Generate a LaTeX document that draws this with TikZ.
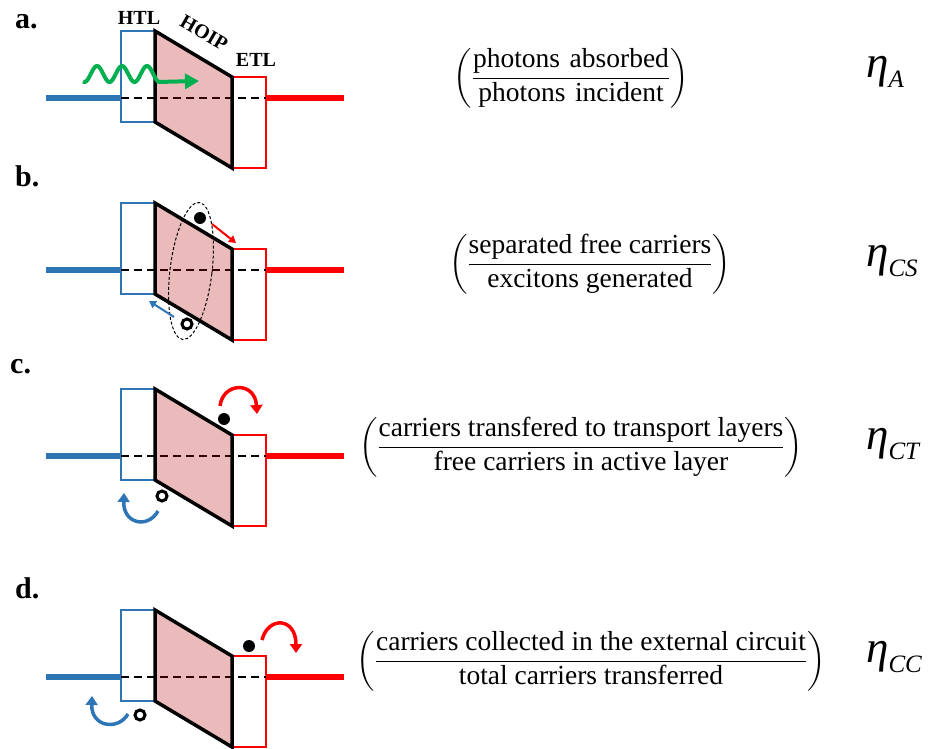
\documentclass[tikz,border=0pt]{standalone}
\usepackage{fontspec}
\setmainfont{Liberation Serif}
\usepackage{amsmath}
\usetikzlibrary{arrows.meta}
\definecolor{hblue}{RGB}{46,117,182}
\definecolor{hred}{RGB}{255,0,0}
\definecolor{hgreen}{RGB}{0,176,80}
\definecolor{hpink}{RGB}{180,0,0}
\newcommand\drawdevice[1]{%
  \begin{scope}[shift={(0,#1)}]
    \draw[hblue, line width=6pt] (46,98) -- (121,98);
    \draw[hred, line width=6pt] (266,98) -- (344,98);
    \draw[hblue, line width=2.5pt, fill=white] (121,31) rectangle (155,122);
    \draw[hred, line width=2.5pt, fill=white] (232,77) rectangle (266,168);
    \draw[black, line width=2pt, dash pattern=on 8pt off 5pt] (121,98) -- (266,98);
    \fill[hpink, fill opacity=0.27] (155,31) -- (232,77) -- (232,168) -- (155,122) -- cycle;
    \draw[black, line width=3.5pt, line join=miter] (155,31) -- (232,77) -- (232,168) -- (155,122) -- cycle;
  \end{scope}}
\begin{document}
\begin{tikzpicture}[x=1pt,y=-1pt,
  lab/.style={font=\fontsize{30}{30}\selectfont\bfseries, anchor=base west, inner sep=0pt},
  layer/.style={font=\fontsize{20}{20}\selectfont\bfseries, inner sep=0pt},
  frac/.style={font=\fontsize{27.5}{33}\selectfont, inner sep=0pt},
  eta/.style={font=\fontsize{45}{45}\selectfont\itshape, anchor=base west, inner sep=0pt},
  dot/.style={fill=black},
  hole/.style={draw=black, line width=3pt, fill=white},
  sarrow/.style={line width=2pt, -{Triangle[length=7pt,width=8pt]}},
  carrow/.style={line width=3.5pt, -{Triangle[length=9pt,width=12pt]}}
]
\useasboundingbox (0,0) rectangle (932,749);
\newcommand\sub[1]{\raisebox{-10pt}{\fontsize{25}{25}\selectfont #1}}

% ---- devices
\drawdevice{0}
\drawdevice{172}
\drawdevice{358}
\drawdevice{579}

% ---- panel labels
\node[lab] (la) at (15,29) {a.};
\node[lab] (lb) at (15,186) {b.};
\node[lab] (lc) at (10,373) {c.};
\node[lab] (ld) at (15,598) {d.};

% ---- layer labels (panel a)
\node[layer] (htl) at (139,18) {HTL};
\node[layer, rotate=-30] (hoip) at (204,33) {HOIP};
\node[layer] (etl) at (256,60) {ETL};

% ---- panel a: photon
\draw[hgreen, line width=4pt, -{Triangle[length=14pt,width=15pt]}]
  plot[domain=83:160, samples=70, smooth] (\x,{74-8*cos(14.4*(\x-97))}) -- (199,81);

% ---- panel b: exciton
\draw[black, line width=1pt, dash pattern=on 3pt off 2pt, rotate around={-7:(191,271)}]
  (191,271) ellipse [x radius=21, y radius=69];
\fill[dot] (200,218) circle [radius=6];
\draw[hole] (187,324) circle [radius=5];
\coordinate (rbs) at (212,224);
\coordinate (rbe) at (236,243);
\draw[hred, sarrow] (rbs) -- (rbe);
\coordinate (bbs) at (174,317);
\coordinate (bbe) at (149,301);
\draw[hblue, sarrow] (bbs) -- (bbe);

% ---- panel c
\fill[dot] (224,419) circle [radius=6];
\draw[hole] (162,496) circle [radius=5];
\coordinate (rcs) at (220,406);
\coordinate (rce) at (257,414);
\draw[hred, carrow] (rcs) .. controls (223,382) and (255,381) .. (rce);
\coordinate (bcs) at (158,511);
\coordinate (bce) at (124,493);
\draw[hblue, carrow] (bcs) .. controls (148,529) and (123,524) .. (bce);

% ---- panel d
\fill[dot] (249,646) circle [radius=6];
\draw[hole] (140,715) circle [radius=5];
\coordinate (rds) at (262,640);
\coordinate (rde) at (296,653);
\draw[hred, carrow] (rds) .. controls (268,616) and (296,617) .. (rde);
\coordinate (bds) at (128,714);
\coordinate (bde) at (92,696);
\draw[hblue, carrow] (bds) .. controls (118,731) and (91,727) .. (bde);

% ---- fractions
\node[frac] (fa) at (571,78) {$\left(\dfrac{\text{photons\hspace{0.35em}absorbed}}{\text{photons\hspace{0.35em}incident}}\right)$};
\node[frac] (fb) at (590,264) {$\left(\dfrac{\text{separated free carriers}}{\text{excitons generated}}\right)$};
\node[frac] (fc) at (581,447) {$\left(\dfrac{\text{carriers transfered to transport layers}}{\text{free carriers in active layer}}\right)$};
\node[frac] (fd) at (591,661) {$\left(\dfrac{\text{carriers collected in the external circuit}}{\text{total carriers transferred}}\right)$};

% ---- efficiencies
\node[eta] (ea) at (866,78) {η\sub{A}};
\node[eta] (eb) at (866,266) {η\sub{CS}};
\node[eta] (ec) at (866,449) {η\sub{CT}};
\node[eta] (ed) at (866,662) {η\sub{CC}};
\end{tikzpicture}
\end{document}
